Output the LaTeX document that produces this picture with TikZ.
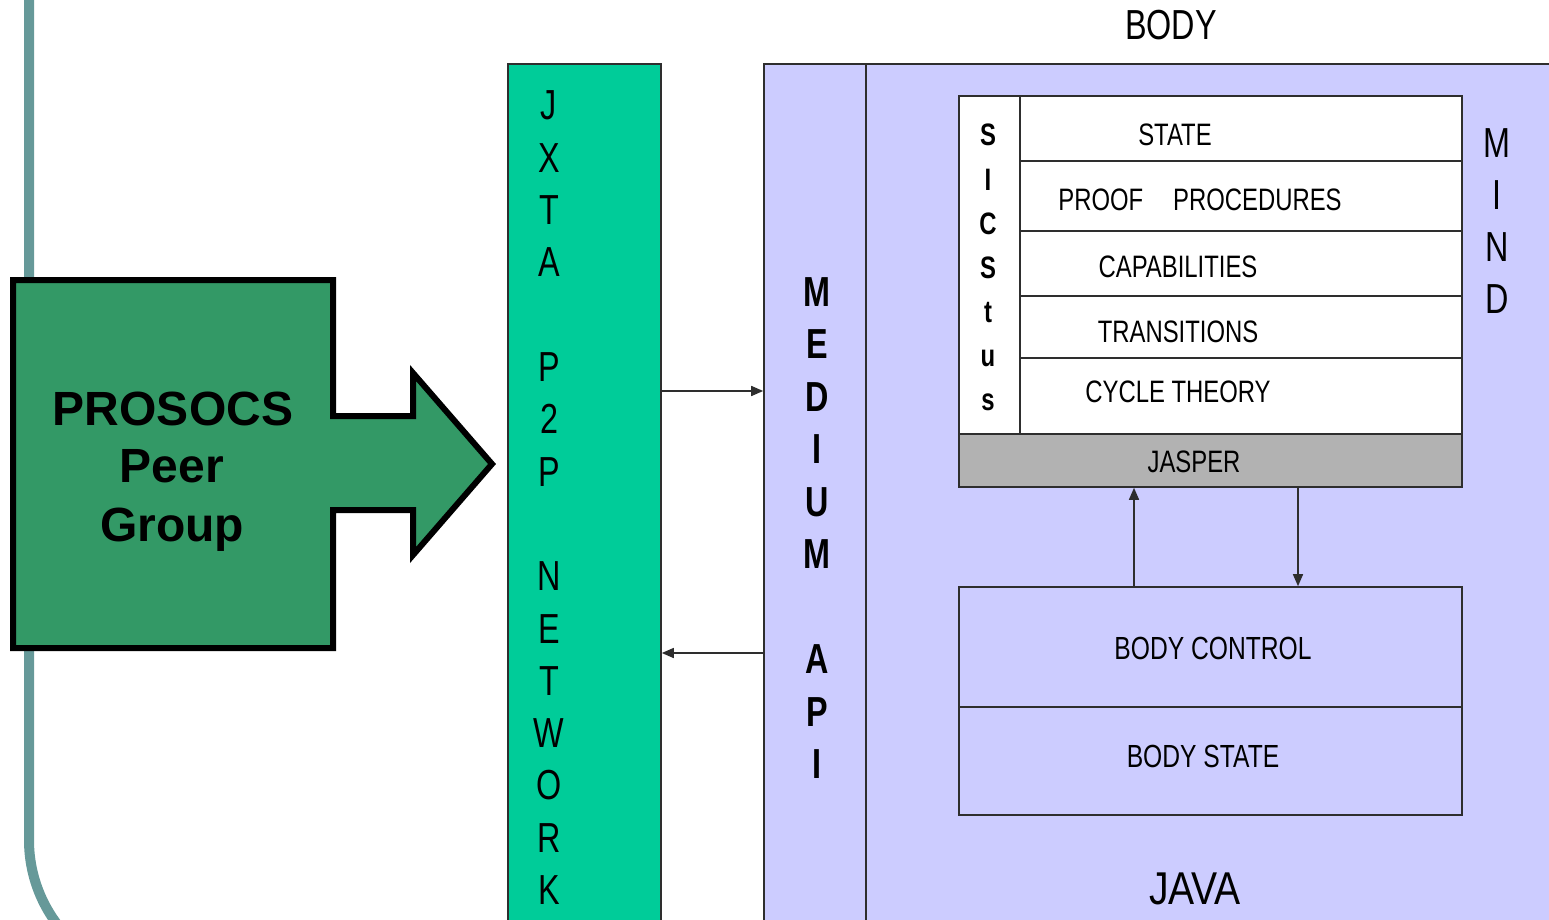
\documentclass[tikz,border=0pt]{standalone}
\usepackage{fontspec}
\setmainfont{Liberation Sans}
\newfontfamily\narrowsans[FakeStretch=0.77]{Liberation Sans}
\newfontfamily\javasans[FakeStretch=0.85]{Liberation Sans}
\usetikzlibrary{arrows.meta,fit}
\definecolor{railteal}{HTML}{669999}
\definecolor{peergreen}{HTML}{339966}
\definecolor{jxtagreen}{HTML}{00CC99}
\definecolor{mediumfill}{HTML}{CCCCFF}
\definecolor{jaspergray}{HTML}{B2B2B2}
\definecolor{edgegray}{HTML}{2E2E2E}
\begin{document}
\begin{tikzpicture}[x=1pt,y=-1pt,
  box/.style={draw=edgegray, line width=1.6pt, inner sep=0pt},
  rule/.style={draw=edgegray, line width=1.6pt},
  arr/.style={-{Triangle[length=12pt,width=10pt]}, line width=1.5pt, draw=edgegray},
  vletter/.style={anchor=base, inner sep=0pt, font=\narrowsans\fontsize{42pt}{42pt}\selectfont},
  vbold/.style={anchor=base, inner sep=0pt, font=\narrowsans\bfseries\fontsize{42pt}{42pt}\selectfont},
  sicletter/.style={anchor=base, inner sep=0pt, font=\narrowsans\bfseries\fontsize{31pt}{31pt}\selectfont},
  rowtext/.style={anchor=base, inner sep=0pt, font=\narrowsans\fontsize{31pt}{31pt}\selectfont},
  peertext/.style={anchor=base, inner sep=0pt, font=\bfseries\fontsize{48pt}{48pt}\selectfont},
]
\useasboundingbox (0,0) rectangle (1549,920);

% slide rail with rounded corner
\draw[railteal, line width=10pt, rounded corners=140pt] (29,-10) -- (29,980) -- (400,980);

% peer group block arrow
\draw[line width=6pt, line join=miter, fill=peergreen]
  (13,280) -- (333,280) -- (333,416) -- (413,416) -- (413,373)
  -- (492,464) -- (413,555) -- (413,510) -- (333,510) -- (333,648)
  -- (13,648) -- cycle;
\node[peertext] (ps1) at (173,425) {PROSOCS};
\node[peertext] (ps2) at (172,482) {Peer};
\node[peertext] (ps3) at (172,541) {Group};

% JXTA network column
\node[box, fill=jxtagreen, fit={(508,64) (661,940)}] (jxta) {};
\foreach \k/\ch in {0/J,1/X,2/T,3/A,5/P,6/2,7/P,9/N,10/E,11/T,12/W,13/O,14/R,15/K}
  \node[vletter] (jx\k) at (549,120+52.3*\k) {\ch};

% body / medium API area
\node[box, fill=mediumfill, fit={(764,64) (1575,945)}] (api) {};
\draw[rule] (866,64) -- (866,945);
\node[vletter] (bodytitle) at (1171,40) {BODY};
\foreach \k/\ch in {0/M,1/E,2/D,3/I,4/U,5/M,7/A,8/P,9/I}
  \node[vbold] (md\k) at (817,306+52.5*\k) {\ch};

% links between network and medium API
\coordinate (ya) at (0,391);
\coordinate (yb) at (0,653);
\draw[arr] (jxta.east |- ya) -- (api.west |- ya);
\draw[arr] (api.west |- yb) -- (jxta.east |- yb);

% mind stack
\node[box, fill=white, fit={(959,96) (1462,434)}] (mind) {};
\draw[rule] (1020,96) -- (1020,434);
\draw[rule] (1020,161) -- (1462,161);
\draw[rule] (1020,231) -- (1462,231);
\draw[rule] (1020,296) -- (1462,296);
\draw[rule] (1020,358) -- (1462,358);
\foreach \k/\ch in {0/S,1/I,2/C,3/S,4/t,5/u,6/s}
  \node[sicletter] (sc\k) at (988,146+44*\k) {\ch};
\node[rowtext] (state) at (1175,146) {STATE};
\node[rowtext] (proof) at (1200,211) {PROOF\hspace{30pt}PROCEDURES};
\node[rowtext] (capab) at (1178,277) {CAPABILITIES};
\node[rowtext] (trans) at (1178,342) {TRANSITIONS};
\node[rowtext] (cycle) at (1178,402) {CYCLE THEORY};
\foreach \k/\ch in {0/M,1/I,2/N,3/D}
  \node[vletter] (mn\k) at (1497,158+51.7*\k) {\ch};

% JASPER layer
\node[box, fill=jaspergray, fit={(959,434) (1462,487)}] (jasper) {};
\node[rowtext] (jaspertext) at (1194,472) {JASPER};

% body box
\node[box, fit={(959,587) (1462,815)}] (bodybox) {};
\draw[rule] (959,707) -- (1462,707);
\node[rowtext, font=\narrowsans\fontsize{32pt}{32pt}\selectfont] (bctl) at (1213,659) {BODY CONTROL};
\node[rowtext, font=\narrowsans\fontsize{32pt}{32pt}\selectfont] (bstate) at (1203,767) {BODY STATE};

% links between JASPER and body
\coordinate (xu) at (1134,0);
\coordinate (xd) at (1298,0);
\draw[arr] (bodybox.north -| xu) -- (jasper.south -| xu);
\draw[arr] (jasper.south -| xd) -- (bodybox.north -| xd);

\node[rowtext, font=\javasans\fontsize{46pt}{46pt}\selectfont] (java) at (1195,904) {JAVA};
\end{tikzpicture}
\end{document}
